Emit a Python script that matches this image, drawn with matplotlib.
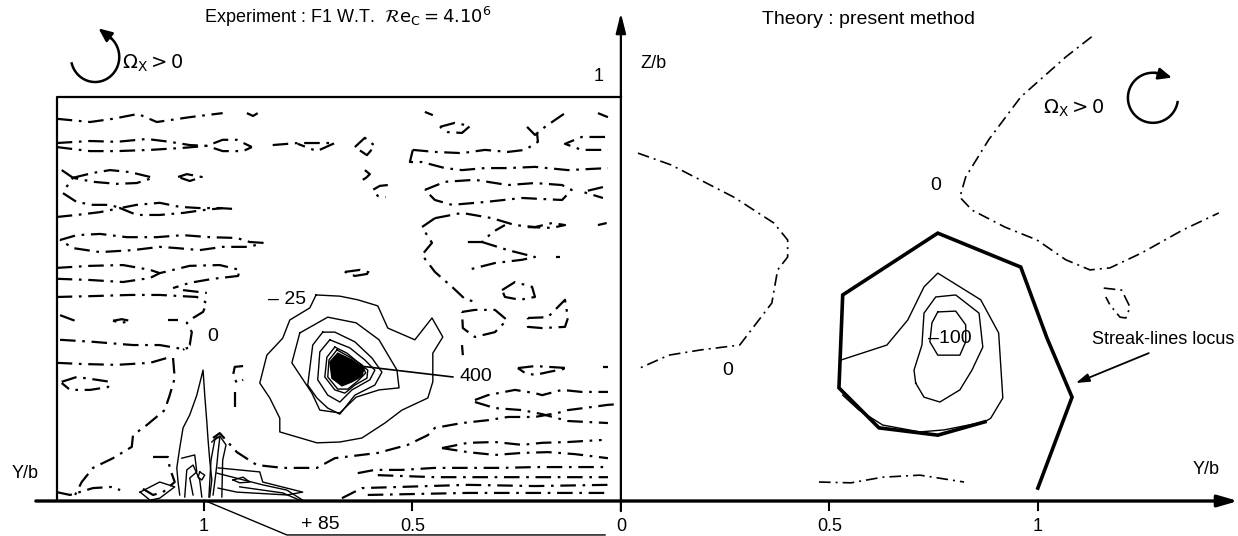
import numpy as np
import matplotlib.pyplot as plt

plt.rcParams['font.family'] = ['Liberation Sans Narrow', 'Liberation Sans', 'DejaVu Sans']

# experiment (left half): Y/b is measured to the left, pairs are (Y/b, Z/b)
exp_zero_lines = [
    [(1.353, 0.946), (1.273, 0.938), (1.218, 0.946), (1.158, 0.958), (1.113, 0.938), (1.034, 0.950), (0.955, 0.960)],
    [(0.897, 0.960), (0.882, 0.953), (0.871, 0.960)],
    [(1.353, 0.886), (1.273, 0.891), (1.209, 0.889), (1.137, 0.896), (1.082, 0.889), (1.034, 0.881), (0.993, 0.879),
     (0.955, 0.894), (0.921, 0.894), (0.885, 0.876)],
    [(1.353, 0.876), (1.273, 0.866), (1.209, 0.866), (1.129, 0.869), (1.050, 0.874), (0.993, 0.879), (0.955, 0.866),
     (0.906, 0.866), (0.885, 0.876)],
    [(0.835, 0.881), (0.775, 0.886), (0.686, 0.886), (0.729, 0.866), (0.775, 0.884)],
    [(0.638, 0.876), (0.614, 0.899), (0.590, 0.879), (0.609, 0.856), (0.638, 0.876)],
    [(0.614, 0.819), (0.602, 0.809), (0.611, 0.800), (0.619, 0.795)],
    [(0.559, 0.782), (0.578, 0.780), (0.595, 0.770), (0.583, 0.755), (0.564, 0.752)],
    [(1.314, 0.800), (1.266, 0.812), (1.225, 0.819), (1.177, 0.814), (1.129, 0.802), (1.122, 0.800), (1.161, 0.787),
     (1.209, 0.785), (1.266, 0.790), (1.314, 0.800)],
    [(1.341, 0.819), (1.314, 0.800), (1.338, 0.765)],
    [(1.062, 0.802), (1.041, 0.809), (1.005, 0.802), (1.034, 0.792), (1.062, 0.802)],
    [(1.338, 0.762), (1.305, 0.740), (1.266, 0.733), (1.225, 0.733), (1.201, 0.725), (1.161, 0.733), (1.106, 0.738),
     (1.058, 0.728), (1.010, 0.725), (0.962, 0.725), (0.930, 0.723)],
    [(1.353, 0.703), (1.305, 0.708), (1.249, 0.715), (1.201, 0.725), (1.161, 0.708), (1.106, 0.708), (1.050, 0.713),
     (1.002, 0.720), (0.955, 0.725)],
    [(1.345, 0.646), (1.305, 0.658), (1.249, 0.661), (1.185, 0.653), (1.113, 0.653), (1.050, 0.658), (0.986, 0.653),
     (0.921, 0.651), (0.890, 0.641), (0.859, 0.639), (0.890, 0.629), (0.955, 0.629), (1.010, 0.621), (1.065, 0.626),
     (1.106, 0.629), (1.170, 0.621), (1.249, 0.616), (1.314, 0.626), (1.345, 0.646)],
    [(1.353, 0.577), (1.273, 0.582), (1.194, 0.584), (1.129, 0.572), (1.106, 0.564), (1.034, 0.582), (0.962, 0.584),
     (0.914, 0.572), (0.918, 0.557), (0.978, 0.550), (1.034, 0.540), (1.074, 0.527)],
    [(1.353, 0.550), (1.273, 0.547), (1.194, 0.542), (1.129, 0.552), (1.106, 0.564)],
    [(1.353, 0.505), (1.273, 0.507), (1.177, 0.510), (1.106, 0.510), (1.017, 0.505), (0.993, 0.490), (1.002, 0.468),
     (1.026, 0.453), (1.041, 0.441), (1.029, 0.418), (1.034, 0.386), (1.050, 0.374)],
    [(1.050, 0.522), (0.993, 0.515)],
    [(1.345, 0.460), (1.309, 0.446)],
    [(1.218, 0.446), (1.197, 0.450), (1.177, 0.446), (1.197, 0.441), (1.218, 0.446)],
    [(1.086, 0.448), (1.062, 0.448)],
    [(1.345, 0.399), (1.266, 0.394), (1.170, 0.386), (1.106, 0.386), (1.050, 0.376), (1.038, 0.379)],
    [(1.353, 0.342), (1.290, 0.339), (1.209, 0.337), (1.129, 0.342), (1.082, 0.356)],
    [(1.074, 0.354), (1.070, 0.304), (1.082, 0.262), (1.094, 0.225), (1.137, 0.188), (1.170, 0.163), (1.173, 0.134),
     (1.218, 0.106), (1.266, 0.082), (1.293, 0.047), (1.309, 0.015)],
    [(1.341, 0.295), (1.305, 0.307), (1.257, 0.300), (1.225, 0.295), (1.230, 0.282), (1.273, 0.275), (1.321, 0.275),
     (1.341, 0.292)],
    [(0.906, 0.334), (0.926, 0.332), (0.930, 0.312), (0.921, 0.292), (0.906, 0.300)],
    [(0.926, 0.270), (0.926, 0.233)],
    [(1.122, 0.109), (1.086, 0.109), (1.082, 0.082), (1.070, 0.047), (1.098, 0.022), (1.122, 0.015), (1.149, 0.032)],
    [(1.353, 0.022), (1.321, 0.015), (1.266, 0.032), (1.218, 0.035), (1.201, 0.027)],
    [(0.978, 0.156), (0.962, 0.168), (0.921, 0.121), (0.873, 0.089), (0.811, 0.082), (0.729, 0.082), (0.686, 0.106),
     (0.583, 0.119), (0.511, 0.139), (0.463, 0.163), (0.446, 0.181), (0.381, 0.193), (0.319, 0.200), (0.271, 0.208),
     (0.206, 0.208), (0.151, 0.218), (0.127, 0.225), (0.067, 0.233), (0.031, 0.238), (0.002, 0.240)],
    [(0.350, 0.250), (0.319, 0.262), (0.254, 0.275), (0.206, 0.267), (0.189, 0.262), (0.141, 0.275), (0.094, 0.270),
     (0.031, 0.270)],
    [(0.350, 0.245), (0.302, 0.230), (0.237, 0.225), (0.189, 0.215), (0.127, 0.198), (0.031, 0.193)],
    [(0.247, 0.329), (0.206, 0.334), (0.127, 0.329), (0.175, 0.319), (0.206, 0.312), (0.230, 0.317), (0.247, 0.329)],
    [(0.043, 0.332), (0.031, 0.332)],
    [(0.429, 0.131), (0.367, 0.144), (0.302, 0.146), (0.237, 0.139), (0.189, 0.144), (0.127, 0.146), (0.046, 0.151)],
    [(0.429, 0.131), (0.367, 0.121), (0.302, 0.114), (0.237, 0.119), (0.175, 0.121), (0.110, 0.116), (0.031, 0.106)],
    [(0.631, 0.069), (0.590, 0.077), (0.525, 0.077), (0.446, 0.082), (0.367, 0.082), (0.285, 0.082), (0.206, 0.084),
     (0.127, 0.084), (0.031, 0.084)],
    [(0.583, 0.064), (0.446, 0.059), (0.285, 0.059), (0.031, 0.059)],
    [(0.669, 0.007), (0.621, 0.032), (0.525, 0.035), (0.367, 0.040), (0.206, 0.037), (0.031, 0.040)],
    [(0.607, 0.015), (0.367, 0.020), (0.031, 0.020)],
    [(0.381, 0.468), (0.350, 0.473), (0.302, 0.473), (0.273, 0.448), (0.302, 0.418), (0.350, 0.406), (0.379, 0.428),
     (0.381, 0.468)],
    [(0.223, 0.453), (0.175, 0.455), (0.134, 0.498), (0.127, 0.453), (0.134, 0.431), (0.189, 0.428), (0.223, 0.431),
     (0.223, 0.453)],
    [(0.381, 0.386), (0.379, 0.361)],
    [(0.470, 0.963), (0.451, 0.955)],
    [(0.434, 0.926), (0.398, 0.936), (0.362, 0.928), (0.381, 0.911), (0.415, 0.913), (0.434, 0.926)],
    [(0.225, 0.926), (0.206, 0.906), (0.182, 0.926), (0.134, 0.960)],
    [(0.055, 0.960), (0.031, 0.950)],
    [(0.499, 0.869), (0.446, 0.864), (0.381, 0.861), (0.326, 0.869), (0.271, 0.864), (0.230, 0.869), (0.199, 0.889),
     (0.201, 0.911)],
    [(0.499, 0.869), (0.506, 0.839), (0.477, 0.839), (0.422, 0.824), (0.381, 0.819), (0.326, 0.824), (0.271, 0.824),
     (0.206, 0.827), (0.127, 0.819), (0.031, 0.824)],
    [(0.038, 0.901), (0.094, 0.901), (0.134, 0.884), (0.094, 0.869), (0.031, 0.869)],
    [(0.470, 0.770), (0.422, 0.790), (0.350, 0.795), (0.271, 0.782), (0.206, 0.787), (0.141, 0.782), (0.118, 0.770),
     (0.141, 0.745), (0.237, 0.750), (0.326, 0.740), (0.405, 0.733), (0.446, 0.745), (0.470, 0.770)],
    [(0.043, 0.777), (0.091, 0.765), (0.043, 0.750)],
    [(0.446, 0.700), (0.477, 0.678), (0.453, 0.639), (0.477, 0.609), (0.446, 0.567), (0.405, 0.530), (0.374, 0.500),
     (0.350, 0.493)],
    [(0.446, 0.700), (0.381, 0.713), (0.309, 0.700), (0.254, 0.683), (0.206, 0.678), (0.165, 0.688), (0.134, 0.683),
     (0.165, 0.676), (0.223, 0.678)],
    [(0.367, 0.641), (0.333, 0.641), (0.307, 0.666), (0.278, 0.683)],
    [(0.333, 0.641), (0.271, 0.621), (0.206, 0.604), (0.237, 0.597), (0.302, 0.589), (0.367, 0.572)],
    [(0.155, 0.604), (0.147, 0.604)],
    [(0.055, 0.683), (0.034, 0.688)],
    [(0.285, 0.522), (0.254, 0.542), (0.213, 0.530), (0.206, 0.505), (0.242, 0.498), (0.278, 0.505), (0.285, 0.522)],
    [(0.662, 0.567), (0.626, 0.572), (0.597, 0.564), (0.638, 0.557), (0.662, 0.567)],
]

# vortex contours, outer (-25) to inner
exp_vortex_levels = [
    [(0.731, 0.510), (0.674, 0.507), (0.631, 0.498), (0.583, 0.483), (0.559, 0.428), (0.494, 0.399), (0.453, 0.453),
     (0.427, 0.406), (0.451, 0.366), (0.451, 0.295), (0.463, 0.255), (0.525, 0.225), (0.566, 0.193), (0.621, 0.156),
     (0.674, 0.146), (0.729, 0.144), (0.818, 0.171), (0.818, 0.205), (0.842, 0.255), (0.866, 0.292), (0.849, 0.361),
     (0.811, 0.403), (0.794, 0.448), (0.746, 0.478), (0.731, 0.510)],
    [(0.770, 0.416), (0.789, 0.342), (0.741, 0.267), (0.722, 0.225), (0.674, 0.218), (0.635, 0.257), (0.580, 0.275),
     (0.532, 0.280), (0.537, 0.324), (0.580, 0.399), (0.635, 0.441), (0.703, 0.455), (0.770, 0.416)],
    [(0.715, 0.418), (0.739, 0.386), (0.751, 0.287), (0.729, 0.255), (0.703, 0.230), (0.674, 0.215), (0.638, 0.262),
     (0.590, 0.287), (0.573, 0.319), (0.597, 0.354), (0.638, 0.394), (0.686, 0.418), (0.715, 0.418)],
    [(0.698, 0.399), (0.722, 0.369), (0.727, 0.300), (0.703, 0.262), (0.674, 0.245), (0.645, 0.275), (0.602, 0.300),
     (0.590, 0.324), (0.614, 0.349), (0.650, 0.379), (0.698, 0.399)],
    [(0.686, 0.381), (0.705, 0.356), (0.710, 0.307), (0.686, 0.275), (0.662, 0.267), (0.638, 0.287), (0.609, 0.304),
     (0.607, 0.324), (0.631, 0.344), (0.657, 0.366), (0.686, 0.381)],
    [(0.681, 0.374), (0.700, 0.349), (0.703, 0.307), (0.679, 0.277), (0.655, 0.277), (0.631, 0.297), (0.612, 0.317),
     (0.621, 0.337), (0.650, 0.356), (0.681, 0.374)],
]
exp_vortex_core = [(0.679, 0.366), (0.698, 0.344), (0.693, 0.304), (0.669, 0.285), (0.645, 0.295), (0.621, 0.309),
                   (0.616, 0.329), (0.645, 0.349), (0.679, 0.366)]

# solid contours near the tip (Y/b ~ 1)
exp_tip_levels = [
    [(1.153, 0.022), (1.106, 0.047), (1.070, 0.035), (1.106, 0.007), (1.129, 0.002), (1.153, 0.022)],
    [(1.058, 0.015), (1.062, 0.047), (1.065, 0.082), (1.058, 0.131), (1.050, 0.181), (1.034, 0.213), (1.017, 0.262),
     (1.002, 0.324), (0.998, 0.262), (0.993, 0.196), (0.990, 0.151), (0.986, 0.101), (0.981, 0.052), (0.986, 0.010)],
    [(1.053, 0.106), (1.022, 0.114), (1.017, 0.072), (1.034, 0.057), (1.026, 0.015)],
    [(1.046, 0.010), (1.041, 0.077), (1.026, 0.089), (1.010, 0.052), (1.005, 0.010)],
    [(1.010, 0.072), (0.998, 0.064), (1.005, 0.052), (1.014, 0.059), (1.010, 0.072)],
    [(0.981, 0.146), (0.969, 0.158), (0.962, 0.156), (0.966, 0.121), (0.969, 0.089), (0.974, 0.047), (0.978, 0.015)],
    [(0.988, 0.010), (0.983, 0.101), (0.974, 0.151), (0.962, 0.161), (0.947, 0.139), (0.955, 0.101), (0.957, 0.010)],
    [(0.966, 0.082), (0.866, 0.072), (0.859, 0.047), (0.763, 0.022), (0.801, 0.015), (0.921, 0.022), (0.966, 0.032)],
    [(0.930, 0.052), (0.906, 0.059), (0.890, 0.047), (0.914, 0.045), (0.930, 0.052)],
    [(0.969, 0.069), (0.859, 0.040), (0.801, 0.027), (0.763, 0.002)],
    [(0.914, 0.035), (0.811, 0.020), (0.770, 0.002)],
]

# theory (right half), pairs are (Y/b, Z/b)
theory_zero_lines = [
    [(0.041, 0.861), (0.120, 0.832), (0.271, 0.752), (0.367, 0.688), (0.400, 0.646), (0.400, 0.604), (0.376, 0.572),
     (0.362, 0.490), (0.285, 0.386), (0.192, 0.374), (0.115, 0.361), (0.041, 0.327)],
    [(1.129, 1.149), (1.067, 1.099), (0.959, 1.000), (0.882, 0.894), (0.827, 0.802), (0.813, 0.752), (0.842, 0.720),
     (0.921, 0.678), (0.998, 0.646), (1.067, 0.597), (1.125, 0.572), (1.173, 0.577), (1.249, 0.614), (1.348, 0.671),
     (1.434, 0.713)],
    [(1.158, 0.527), (1.201, 0.522), (1.221, 0.480), (1.211, 0.453), (1.197, 0.455), (1.173, 0.485), (1.163, 0.505)],
    [(0.475, 0.047), (0.552, 0.045), (0.628, 0.059), (0.717, 0.064), (0.823, 0.047)],
]
theory_levels = [
    [(0.528, 0.349), (0.638, 0.386), (0.688, 0.448), (0.727, 0.530), (0.760, 0.564), (0.863, 0.498), (0.906, 0.416),
     (0.916, 0.255), (0.887, 0.205), (0.873, 0.196)],
    [(0.532, 0.262), (0.571, 0.225), (0.628, 0.188), (0.717, 0.171), (0.775, 0.176), (0.873, 0.196)],
    [(0.707, 0.292), (0.703, 0.324), (0.722, 0.386), (0.727, 0.465), (0.755, 0.505), (0.803, 0.510), (0.859, 0.465),
     (0.868, 0.381), (0.842, 0.324), (0.813, 0.275), (0.765, 0.245), (0.727, 0.257), (0.707, 0.292)],
    [(0.760, 0.468), (0.803, 0.470), (0.827, 0.436), (0.827, 0.394), (0.813, 0.361), (0.760, 0.361), (0.741, 0.394),
     (0.746, 0.441), (0.760, 0.468)],
]
streak_locus = [(1.000, 0.032), (1.082, 0.257), (1.022, 0.403), (0.959, 0.579), (0.760, 0.663), (0.532, 0.510),
                (0.523, 0.280), (0.619, 0.181), (0.760, 0.163), (0.873, 0.196)]

left_ticks = [1, 0.5]
right_ticks = [0.5, 1]
tick_names_left = ['1', '0.5']
tick_names_right = ['0.5', '1']

DASHDOT = (0, (7, 3, 1.2, 3))

fig = plt.figure(figsize=(12.38, 5.36), dpi=100)
ax = fig.add_axes([0, 0, 1, 1])
ax.set_xlim(-1.489, 1.480)
ax.set_ylim(-0.0866, 1.240)
ax.axis('off')

# left half is drawn mirrored
for line in exp_zero_lines:
    y, z = zip(*line)
    ax.plot(-np.array(y), z, color='k', lw=1.6, ls=DASHDOT)
for line in exp_vortex_levels + exp_tip_levels:
    y, z = zip(*line)
    ax.plot(-np.array(y), z, color='k', lw=1.0)
y, z = zip(*exp_vortex_core)
ax.fill(-np.array(y), z, color='k')

for line in theory_zero_lines:
    y, z = zip(*line)
    ax.plot(y, z, color='k', lw=1.2, ls=DASHDOT)
for line in theory_levels:
    y, z = zip(*line)
    ax.plot(y, z, color='k', lw=1.0)
y, z = zip(*streak_locus)
ax.plot(y, z, color='k', lw=2.6, solid_joinstyle='miter')

# frame of the experiment plane
ax.plot([-1.353, -1.353, 0], [0.005, 1.0, 1.0], color='k', lw=1.6)

# axes with arrows
ax.annotate('', xy=(1.480, 0), xytext=(-1.403, 0),
            arrowprops=dict(arrowstyle='-|>,head_length=1.2,head_width=0.35', lw=2.4, color='k',
                            shrinkA=0, shrinkB=0))
ax.annotate('', xy=(0, 1.208), xytext=(0, -0.025),
            arrowprops=dict(arrowstyle='-|>,head_length=1.2,head_width=0.3', lw=1.6, color='k',
                            shrinkA=0, shrinkB=0))
for t in [-1, -0.5, 0.5, 1]:
    ax.plot([t, t], [0, -0.022], color='k', lw=1.5)

fs = 13
for t, s in zip(left_ticks, tick_names_left):
    ax.text(-t, -0.062, s, ha='center', va='center', fontsize=fs)
for t, s in zip(right_ticks, tick_names_right):
    ax.text(t, -0.062, s, ha='center', va='center', fontsize=fs)
ax.text(0, -0.062, '0', ha='center', va='center', fontsize=fs)

ax.text(-1.429, 0.069, 'Y/b', ha='center', va='center', fontsize=fs)
ax.text(1.403, 0.077, 'Y/b', ha='center', va='center', fontsize=fs)
ax.text(0.046, 1.084, 'Z/b', ha='left', va='center', fontsize=fs)
ax.text(-0.053, 1.050, '1', ha='center', va='center', fontsize=fs)

ax.text(-0.655, 1.198, r'Experiment : F1 W.T.  $\mathcal{R}\mathrm{e_C} = 4.10^6$', ha='center', va='center',
        fontsize=fs)
ax.text(0.595, 1.191, 'Theory : present method', ha='center', va='center', fontsize=14)

# contour labels
ax.text(-0.801, 0.498, '\u2013 25', ha='center', va='center', fontsize=14)
ax.text(-0.978, 0.406, '0', ha='center', va='center', fontsize=14)
ax.plot([-0.650, -0.403], [0.337, 0.307], color='k', lw=1.2)
ax.text(-0.386, 0.307, '400', ha='left', va='center', fontsize=14)
ax.plot([-1.0, -0.801, -0.038], [0.002, -0.084, -0.084], color='k', lw=1.0)
ax.text(-0.722, -0.059, '+ 85', ha='center', va='center', fontsize=14)

ax.text(0.257, 0.324, '0', ha='center', va='center', fontsize=14)
ax.text(0.755, 0.782, '0', ha='center', va='center', fontsize=14)
ax.text(0.789, 0.403, '\u2013100', ha='center', va='center', fontsize=14)
ax.text(1.300, 0.399, 'Streak-lines locus', ha='center', va='center', fontsize=fs)
ax.annotate('', xy=(1.091, 0.292), xytext=(1.266, 0.366),
            arrowprops=dict(arrowstyle='-|>,head_length=0.8,head_width=0.25', lw=1.3, color='k',
                            shrinkA=0, shrinkB=0))

# rotation symbols
ax.text(-1.197, 1.084, r'$\Omega_\mathrm{X} > 0$', ha='left', va='center', fontsize=14)
ax.text(1.012, 0.973, r'$\Omega_\mathrm{X} > 0$', ha='left', va='center', fontsize=14)

th = np.radians(np.linspace(195, 415, 60))
ax.plot(-1.261 + 0.058 * np.cos(th), 1.099 + 0.062 * np.sin(th), color='k', lw=1.8)
ax.annotate('', xy=(-1.261 + 0.058 * np.cos(th[-1]) - 0.025, 1.099 + 0.062 * np.sin(th[-1]) + 0.02),
            xytext=(-1.261 + 0.058 * np.cos(th[-3]), 1.099 + 0.062 * np.sin(th[-3])),
            arrowprops=dict(arrowstyle='-|>,head_length=0.8,head_width=0.35', lw=1.8, color='k',
                            shrinkA=0, shrinkB=0))

th = np.radians(np.linspace(-10, -285, 60))
ax.plot(1.276 + 0.060 * np.cos(th), 0.998 + 0.062 * np.sin(th), color='k', lw=1.8)
ax.annotate('', xy=(1.276 + 0.060 * np.cos(th[-1]) + 0.03, 0.998 + 0.062 * np.sin(th[-1]) - 0.01),
            xytext=(1.276 + 0.060 * np.cos(th[-3]), 0.998 + 0.062 * np.sin(th[-3])),
            arrowprops=dict(arrowstyle='-|>,head_length=0.8,head_width=0.35', lw=1.8, color='k',
                            shrinkA=0, shrinkB=0))

fig.savefig('out.png', dpi=100)
